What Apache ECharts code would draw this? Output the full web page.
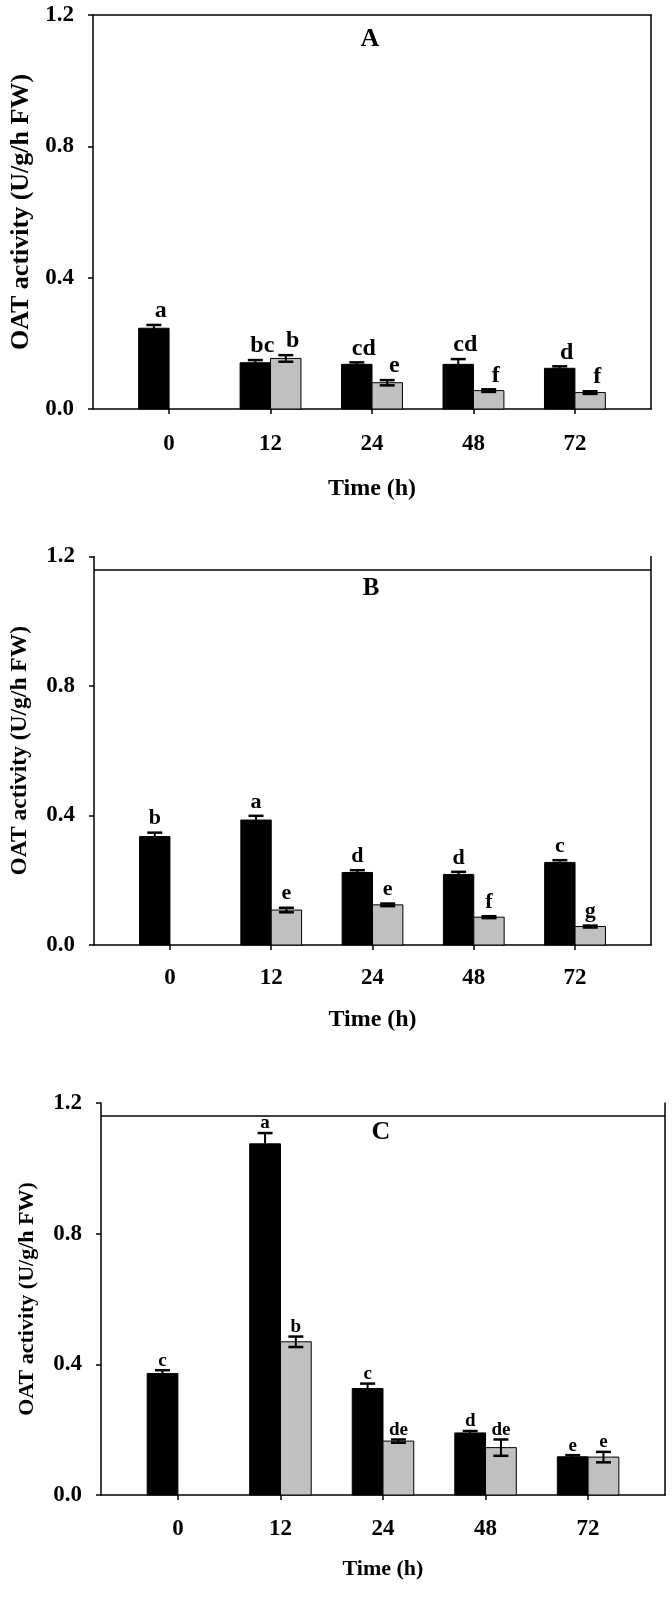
<!DOCTYPE html>
<html><head><meta charset="utf-8">
<script src="https://cdn.jsdelivr.net/npm/echarts@6/dist/echarts.min.js"></script>
<style>html,body{margin:0;padding:0;background:#fff}#c{width:672px;height:1600px}</style>
</head><body><div id="c"></div>
<script>
// ---------- data ----------
const timeLabels = ['0', '12', '24', '48', '72'];
const yAxisName = 'OAT activity (U/g/h FW)';
const xAxisName = 'Time (h)';
const panelNames = ['A', 'B', 'C'];

const aBlack    = [0.246, 0.141, 0.136, 0.136, 0.124];
const aBlackErr = [0.010, 0.008, 0.006, 0.016, 0.006];
const aGrey     = [null, 0.154, 0.080, 0.056, 0.050];
const aGreyErr  = [null, 0.010, 0.008, 0.004, 0.004];
const aBlackSig = ['a', 'bc', 'cd', 'cd', 'd'];
const aGreySig  = [null, 'b', 'e', 'f', 'f'];

const bBlack    = [0.335, 0.386, 0.224, 0.218, 0.255];
const bBlackErr = [0.012, 0.013, 0.007, 0.008, 0.007];
const bGrey     = [null, 0.108, 0.124, 0.086, 0.057];
const bGreyErr  = [null, 0.007, 0.004, 0.003, 0.003];
const bBlackSig = ['b', 'a', 'd', 'd', 'c'];
const bGreySig  = [null, 'e', 'e', 'f', 'g'];

const cBlack    = [0.372, 1.075, 0.326, 0.190, 0.117];
const cBlackErr = [0.010, 0.033, 0.015, 0.006, 0.005];
const cGrey     = [null, 0.469, 0.165, 0.145, 0.116];
const cGreyErr  = [null, 0.016, 0.005, 0.025, 0.016];
const cBlackSig = ['c', 'a', 'c', 'd', 'e'];
const cGreySig  = [null, 'b', 'de', 'de', 'e'];

// ---------- layout / style ----------
const FONT = "'Liberation Serif','Times New Roman',serif";
const BAR_W = 0.3;       // bar width in category units
const CAP = 7.5;         // half cap width in px
const layout = [
  {grid: {left: 92, top: 15, width: 559, height: 394}, frameTop: null, letter: [370, 39, 26],
   sigSize: 24, sigDx: 7, sigGap: 2, yNameSize: 26, yNameGap: 59, xNameSize: 24, xNameGap: 68, xLabelMargin: 24},
  {grid: {left: 92, top: 556.5, width: 559, height: 388.5}, frameTop: 1.16, letter: [371, 589, 25],
   sigSize: 22, sigDx: 0, sigGap: 3, yNameSize: 23.5, yNameGap: 62, xNameSize: 24, xNameGap: 63, xLabelMargin: 22},
  {grid: {left: 101, top: 1103, width: 564, height: 392}, frameTop: 1.163, letter: [381, 1132, 26],
   sigSize: 19, sigDx: 0, sigGap: 0, yNameSize: 22, yNameGap: 63, xNameSize: 22, xNameGap: 63, xLabelMargin: 23}
];

const sets = [
  [aBlack, aBlackErr, aBlackSig, aGrey, aGreyErr, aGreySig],
  [bBlack, bBlackErr, bBlackSig, bGrey, bGreyErr, bGreySig],
  [cBlack, cBlackErr, cBlackSig, cGrey, cGreyErr, cGreySig]
];

const grids = [], xAxes = [], yAxes = [], series = [], graphics = [];

function toData(vals, errs, sigs) {
  const out = [], s = [];
  vals.forEach((v, i) => { if (v != null) { out.push([i, v, errs[i]]); s.push(sigs[i]); } });
  return {data: out, sigs: s};
}

function barRender(side, fill) {
  return function (params, api) {
    const i = api.value(0), v = api.value(1);
    const x0 = side < 0 ? i - BAR_W : i;
    const p0 = api.coord([x0, v]);
    const p1 = api.coord([x0 + BAR_W, 0]);
    return {type: 'rect', shape: {x: p0[0], y: p0[1], width: p1[0] - p0[0], height: p1[1] - p0[1]},
      style: {fill: fill, stroke: '#000', lineWidth: 1}};
  };
}

function errRender(side, sigs, L) {
  return function (params, api) {
    const i = api.value(0), v = api.value(1), e = api.value(2);
    const cx = i + side * BAR_W / 2;
    const t = api.coord([cx, v + e]), b = api.coord([cx, v - e]);
    const ls = {stroke: '#000', lineWidth: 2};
    return {type: 'group', children: [
      {type: 'line', shape: {x1: t[0], y1: t[1], x2: b[0], y2: b[1]}, style: ls},
      {type: 'line', shape: {x1: t[0] - CAP, y1: t[1], x2: t[0] + CAP, y2: t[1]}, style: {stroke: '#000', lineWidth: 2.5}},
      {type: 'line', shape: {x1: b[0] - CAP, y1: b[1], x2: b[0] + CAP, y2: b[1]}, style: {stroke: '#000', lineWidth: 2.5}},
      {type: 'text', x: t[0] + L.sigDx, y: t[1] - L.sigGap,
        style: {text: sigs[params.dataIndex], textAlign: 'center', textVerticalAlign: 'bottom',
          font: 'bold ' + L.sigSize + 'px ' + FONT, fill: '#000'}}
    ]};
  };
}

layout.forEach((L, k) => {
  grids.push(Object.assign({containLabel: false}, L.grid));
  const [bk, bkE, bkS, gr, grE, grS] = sets[k];
  xAxes.push({gridIndex: k, type: 'value', min: -0.75, max: 4.75, position: 'bottom',
    name: xAxisName, nameLocation: 'middle', nameGap: L.xNameGap,
    nameTextStyle: {fontFamily: FONT, fontWeight: 'bold', fontSize: L.xNameSize, color: '#000'},
    axisLine: {show: true, onZero: false, lineStyle: {color: '#000', width: 1.5}},
    axisTick: {show: true, customValues: [0, 1, 2, 3, 4], length: 5, lineStyle: {color: '#000', width: 1.5}},
    axisLabel: {show: true, customValues: [0, 1, 2, 3, 4], margin: L.xLabelMargin,
      formatter: v => timeLabels[Math.round(v)],
      fontFamily: FONT, fontWeight: 'bold', fontSize: 23, color: '#000'},
    splitLine: {show: false}});
  xAxes.push({gridIndex: k, type: 'value', min: -0.75, max: 4.75, position: 'top', show: L.frameTop == null,
    axisLine: {show: true, onZero: false, lineStyle: {color: '#000', width: 1.5}},
    axisTick: {show: false}, axisLabel: {show: false}, splitLine: {show: false}});
  yAxes.push({gridIndex: k, type: 'value', min: 0, max: 1.2, interval: 0.4, position: 'left',
    name: yAxisName, nameLocation: 'middle', nameGap: L.yNameGap, nameRotate: 90,
    nameTextStyle: {fontFamily: FONT, fontWeight: 'bold', fontSize: L.yNameSize, color: '#000'},
    axisLine: {show: true, onZero: false, lineStyle: {color: '#000', width: 1.5}},
    axisTick: {show: true, length: 5, lineStyle: {color: '#000', width: 1.5}},
    axisLabel: {margin: 19, formatter: v => v.toFixed(1), fontFamily: FONT, fontWeight: 'bold', fontSize: 23, color: '#000'},
    splitLine: {show: false}});
  yAxes.push({gridIndex: k, type: 'value', min: 0, max: 1.2, position: 'right',
    axisLine: {show: true, onZero: false, lineStyle: {color: '#000', width: 1.5}},
    axisTick: {show: false}, axisLabel: {show: false}, splitLine: {show: false}});

  const xi = 2 * k, yi = 2 * k;
  const bd = toData(bk, bkE, bkS), gd = toData(gr, grE, grS);
  const barBlack = {type: 'custom', xAxisIndex: xi, yAxisIndex: yi, data: bd.data, renderItem: barRender(-1, '#000'), z: 2};
  if (L.frameTop != null) {
    barBlack.markLine = {silent: true, symbol: ['none', 'none'], label: {show: false},
      lineStyle: {color: '#000', type: 'solid', width: 1.5}, data: [{yAxis: L.frameTop}]};
  }
  series.push(barBlack);
  series.push({type: 'custom', xAxisIndex: xi, yAxisIndex: yi, data: gd.data, renderItem: barRender(1, '#c0c0c0'), z: 2});
  series.push({type: 'custom', xAxisIndex: xi, yAxisIndex: yi, data: bd.data, renderItem: errRender(-1, bd.sigs, L), z: 3});
  series.push({type: 'custom', xAxisIndex: xi, yAxisIndex: yi, data: gd.data, renderItem: errRender(1, gd.sigs, L), z: 3});

  graphics.push({type: 'text', x: L.letter[0], y: L.letter[1],
    style: {text: panelNames[k], textAlign: 'center', textVerticalAlign: 'middle',
      font: 'bold ' + L.letter[2] + 'px ' + FONT, fill: '#000'}});
});

const chart = echarts.init(document.getElementById('c'), null, {renderer: 'canvas'});
chart.setOption({
  animation: false,
  backgroundColor: '#fff',
  grid: grids, xAxis: xAxes, yAxis: yAxes, series: series, graphic: graphics
});
</script>
</body></html>
